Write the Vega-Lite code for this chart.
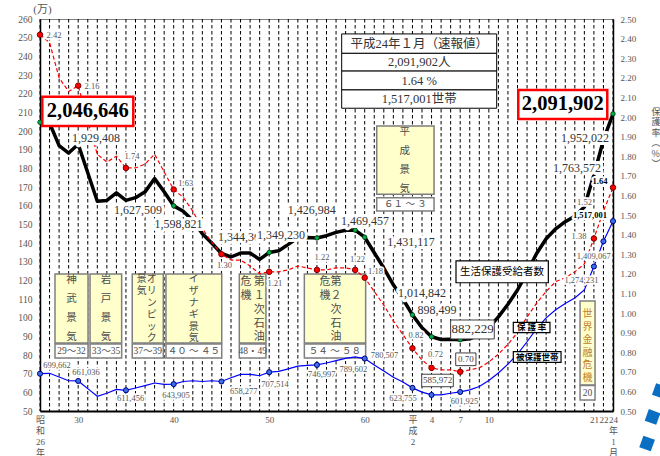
{
  "$schema": "https://vega.github.io/schema/vega-lite/v6.json",
  "description": "生活保護受給者数・保護率・被保護世帯数の推移（昭和26年〜平成24年1月）",
  "width": 573,
  "height": 392,
  "autosize": {"type": "none"},
  "padding": {"left": 40, "top": 19, "right": 47, "bottom": 45},
  "background": "white",
  "config": {
    "view": {"stroke": "#808080", "strokeWidth": 1},
    "text": {"font": "Liberation Serif, Noto Sans CJK JP", "align": "center", "baseline": "middle"}
  },
  "datasets": {
    "series": [
      {"year": 1951, "persons": 204.7, "rate": 2.42, "households": 70.0},
      {"year": 1952, "persons": 204.3, "rate": 2.38, "households": 70.2},
      {"year": 1953, "persons": 192.2, "rate": 2.20, "households": 68.2},
      {"year": 1954, "persons": 188.2, "rate": 2.13, "households": 66.2},
      {"year": 1955, "persons": 192.9, "rate": 2.16, "households": 66.1},
      {"year": 1956, "persons": 177.6, "rate": 1.98, "households": 62.0},
      {"year": 1957, "persons": 162.4, "rate": 1.81, "households": 57.9},
      {"year": 1958, "persons": 162.8, "rate": 1.77, "households": 59.5},
      {"year": 1959, "persons": 166.9, "rate": 1.80, "households": 61.6},
      {"year": 1960, "persons": 162.8, "rate": 1.74, "households": 61.1},
      {"year": 1961, "persons": 164.3, "rate": 1.74, "households": 62.3},
      {"year": 1962, "persons": 167.4, "rate": 1.76, "households": 63.6},
      {"year": 1963, "persons": 174.5, "rate": 1.81, "households": 65.0},
      {"year": 1964, "persons": 167.5, "rate": 1.72, "households": 64.3},
      {"year": 1965, "persons": 159.9, "rate": 1.63, "households": 64.4},
      {"year": 1966, "persons": 157.0, "rate": 1.59, "households": 65.8},
      {"year": 1967, "persons": 152.1, "rate": 1.52, "households": 66.2},
      {"year": 1968, "persons": 145.0, "rate": 1.43, "households": 65.8},
      {"year": 1969, "persons": 139.9, "rate": 1.36, "households": 66.2},
      {"year": 1970, "persons": 134.4, "rate": 1.30, "households": 65.8},
      {"year": 1971, "persons": 132.5, "rate": 1.27, "households": 67.8},
      {"year": 1972, "persons": 134.6, "rate": 1.27, "households": 69.6},
      {"year": 1973, "persons": 134.6, "rate": 1.24, "households": 69.6},
      {"year": 1974, "persons": 131.2, "rate": 1.20, "households": 68.9},
      {"year": 1975, "persons": 134.9, "rate": 1.21, "households": 70.8},
      {"year": 1976, "persons": 135.8, "rate": 1.21, "households": 71.2},
      {"year": 1977, "persons": 139.3, "rate": 1.22, "households": 72.6},
      {"year": 1978, "persons": 142.8, "rate": 1.24, "households": 74.0},
      {"year": 1979, "persons": 143.0, "rate": 1.23, "households": 74.4},
      {"year": 1980, "persons": 142.7, "rate": 1.22, "households": 74.7},
      {"year": 1981, "persons": 143.9, "rate": 1.22, "households": 75.7},
      {"year": 1982, "persons": 145.7, "rate": 1.23, "households": 77.0},
      {"year": 1983, "persons": 146.8, "rate": 1.23, "households": 78.2},
      {"year": 1984, "persons": 146.9, "rate": 1.22, "households": 79.0},
      {"year": 1985, "persons": 143.1, "rate": 1.18, "households": 78.1},
      {"year": 1986, "persons": 134.8, "rate": 1.11, "households": 74.6},
      {"year": 1987, "persons": 126.6, "rate": 1.04, "households": 71.4},
      {"year": 1988, "persons": 117.6, "rate": 0.96, "households": 68.1},
      {"year": 1989, "persons": 110.0, "rate": 0.89, "households": 65.5},
      {"year": 1990, "persons": 101.5, "rate": 0.82, "households": 62.4},
      {"year": 1991, "persons": 94.6, "rate": 0.76, "households": 60.1},
      {"year": 1992, "persons": 89.8, "rate": 0.72, "households": 58.6},
      {"year": 1993, "persons": 88.3, "rate": 0.71, "households": 58.6},
      {"year": 1994, "persons": 88.5, "rate": 0.71, "households": 59.5},
      {"year": 1995, "persons": 88.2, "rate": 0.70, "households": 60.2},
      {"year": 1996, "persons": 88.7, "rate": 0.71, "households": 61.3},
      {"year": 1997, "persons": 90.6, "rate": 0.72, "households": 63.1},
      {"year": 1998, "persons": 94.7, "rate": 0.75, "households": 66.3},
      {"year": 1999, "persons": 100.4, "rate": 0.79, "households": 70.4},
      {"year": 2000, "persons": 107.2, "rate": 0.84, "households": 75.1},
      {"year": 2001, "persons": 114.8, "rate": 0.90, "households": 80.5},
      {"year": 2002, "persons": 124.3, "rate": 0.98, "households": 87.1},
      {"year": 2003, "persons": 134.4, "rate": 1.05, "households": 94.1},
      {"year": 2004, "persons": 142.3, "rate": 1.11, "households": 99.9},
      {"year": 2005, "persons": 147.6, "rate": 1.16, "households": 104.2},
      {"year": 2006, "persons": 151.4, "rate": 1.18, "households": 107.6},
      {"year": 2007, "persons": 154.3, "rate": 1.21, "households": 110.5},
      {"year": 2008, "persons": 159.3, "rate": 1.25, "households": 114.9},
      {"year": 2009, "persons": 176.4, "rate": 1.38, "households": 127.4},
      {"year": 2010, "persons": 195.2, "rate": 1.52, "households": 140.9},
      {"year": 2011, "persons": 209.2, "rate": 1.64, "households": 151.7}
    ],
    "booms": [
      {"x": 1952.57, "x2": 1956.03, "y": 123.4, "y2": 86.4},
      {"x": 1956.24, "x2": 1959.55, "y": 123.4, "y2": 86.4},
      {"x": 1960.66, "x2": 1963.91, "y": 123.4, "y2": 86.4},
      {"x": 1964.19, "x2": 1970.03, "y": 123.4, "y2": 86.4},
      {"x": 1971.87, "x2": 1974.66, "y": 123.4, "y2": 86.4},
      {"x": 1978.68, "x2": 1985.1, "y": 123.4, "y2": 86.4},
      {"x": 1986.26, "x2": 1992.26, "y": 202.7, "y2": 166.1},
      {"x": 2007.55, "x2": 2009.12, "y": 108.9, "y2": 63.9}
    ],
    "boom_periods": [
      {"x": 1952.57, "x2": 1956.03, "y": 85.9, "y2": 78.4, "xc": 1954.3, "yc": 82.15, "text": "29～32"},
      {"x": 1956.24, "x2": 1959.55, "y": 85.9, "y2": 78.4, "xc": 1957.9, "yc": 82.15, "text": "33～35"},
      {"x": 1960.66, "x2": 1963.91, "y": 85.9, "y2": 78.4, "xc": 1962.28, "yc": 82.15, "text": "37～39"},
      {"x": 1964.19, "x2": 1970.03, "y": 85.9, "y2": 78.4, "xc": 1967.11, "yc": 82.15, "text": "４０ ～ ４５"},
      {"x": 1971.87, "x2": 1974.66, "y": 85.9, "y2": 78.4, "xc": 1973.27, "yc": 82.15, "text": "48・49"},
      {"x": 1978.68, "x2": 1985.1, "y": 85.9, "y2": 78.4, "xc": 1981.89, "yc": 82.15, "text": "５４ ～ ５８"},
      {"x": 1986.26, "x2": 1992.26, "y": 164.3, "y2": 157.1, "xc": 1989.26, "yc": 160.7, "text": "６１ ～ ３"},
      {"x": 2007.55, "x2": 2009.12, "y": 63.6, "y2": 55.9, "xc": 2008.33, "yc": 59.75, "text": "20"}
    ],
    "table": [
      {"x": 1982.59, "x2": 1998.82, "y": 252.0, "y2": 241.6, "xc": 1990.7, "yc": 246.8, "text": "平成24年１月（速報値）"},
      {"x": 1982.59, "x2": 1998.82, "y": 241.6, "y2": 232.1, "xc": 1990.7, "yc": 236.85, "text": "2,091,902人"},
      {"x": 1982.59, "x2": 1998.82, "y": 232.1, "y2": 222.0, "xc": 1990.7, "yc": 227.05, "text": "1.64 %"},
      {"x": 1982.59, "x2": 1998.82, "y": 222.0, "y2": 212.2, "xc": 1990.7, "yc": 217.1, "text": "1,517,001世帯"}
    ],
    "big_labels": [
      {"x": 1951.24, "x2": 1960.77, "y": 218.4, "y2": 202.7, "xc": 1956.0, "yc": 210.6, "text": "2,046,646"},
      {"x": 2001.08, "x2": 2010.4, "y": 222.0, "y2": 206.4, "xc": 2005.74, "yc": 214.2, "text": "2,091,902"}
    ],
    "legend_boxes": [
      {"x": 1994.56, "x2": 2004.23, "y": 130.4, "y2": 118.7, "xc": 1999.38, "yc": 124.55, "text": "生活保護受給者数"},
      {"x": 2000.56, "x2": 2004.4, "y": 97.5, "y2": 92.0, "xc": 2002.48, "yc": 94.75, "text": "保 護 率"},
      {"x": 2000.56, "x2": 2005.56, "y": 81.8, "y2": 76.1, "xc": 2003.06, "yc": 78.95, "text": "被保護世帯"}
    ],
    "value_boxes": [
      {"x": 1994.0, "x2": 1998.57, "y": 98.75, "y2": 88.6, "xc": 1996.29, "yc": 93.7, "text": "882,229"},
      {"x": 1994.53, "x2": 1996.65, "y": 81.1, "y2": 74.3, "xc": 1995.59, "yc": 77.7, "text": "0.70"},
      {"x": 1990.97, "x2": 1994.28, "y": 69.7, "y2": 63.0, "xc": 1992.63, "yc": 66.35, "text": "585,972"}
    ],
    "labels_persons": [
      {"x": 1956.86, "y": 196.25, "text": "1,929,408"},
      {"x": 1961.26, "y": 157.7, "text": "1,627,509"},
      {"x": 1965.5, "y": 150.2, "text": "1,598,821"},
      {"x": 1972.15, "y": 143.2, "text": "1,344,306"},
      {"x": 1979.45, "y": 157.7, "text": "1,426,984"},
      {"x": 1985.03, "y": 151.8, "text": "1,469,457"},
      {"x": 1989.85, "y": 140.4, "text": "1,431,117"},
      {"x": 1991.0, "y": 113.2, "text": "1,014,842"},
      {"x": 1992.57, "y": 104.1, "text": "898,499"},
      {"x": 2007.23, "y": 180.0, "text": "1,763,572"},
      {"x": 2008.07, "y": 196.1, "text": "1,952,022"},
      {"x": 1976.24, "y": 144.3, "text": "1,349,230"}
    ],
    "labels_small": [
      {"x": 1952.47, "y": 251.6, "text": "2.42"},
      {"x": 1956.45, "y": 224.1, "text": "2.16"},
      {"x": 1960.63, "y": 186.6, "text": "1.74"},
      {"x": 1966.26, "y": 172.0, "text": "1.63"},
      {"x": 1970.32, "y": 128.2, "text": "1.30"},
      {"x": 1975.6, "y": 118.4, "text": "1.21"},
      {"x": 1980.53, "y": 132.3, "text": "1.22"},
      {"x": 1984.25, "y": 131.3, "text": "1.22"},
      {"x": 1986.13, "y": 125.2, "text": "1.18"},
      {"x": 1990.37, "y": 90.7, "text": "0.82"},
      {"x": 1992.41, "y": 80.5, "text": "0.72"},
      {"x": 2008.02, "y": 162.1, "text": "1.52"},
      {"x": 2007.44, "y": 144.0, "text": "1.38"},
      {"x": 1952.78, "y": 74.6, "text": "699,662"},
      {"x": 1955.82, "y": 70.7, "text": "661,036"},
      {"x": 1960.48, "y": 57.1, "text": "611,456"},
      {"x": 1965.24, "y": 58.6, "text": "643,905"},
      {"x": 1972.33, "y": 60.7, "text": "658,277"},
      {"x": 1975.61, "y": 64.3, "text": "707,514"},
      {"x": 1980.5, "y": 69.8, "text": "746,997"},
      {"x": 1983.81, "y": 72.5, "text": "789,602"},
      {"x": 1987.07, "y": 80.0, "text": "780,507"},
      {"x": 1989.01, "y": 57.1, "text": "623,755"},
      {"x": 1995.45, "y": 55.4, "text": "601,925"},
      {"x": 2008.98, "y": 133.2, "text": "1,409,067"},
      {"x": 2007.7, "y": 120.2, "text": "1,274,231"}
    ],
    "labels_bold": [
      {"x": 2008.59, "y": 155.0, "text": "1,517,001"},
      {"x": 2009.64, "y": 173.4, "text": "1.64"}
    ],
    "boom_names": [
      {"x": 1954.3, "y": 122.8, "lines": ["神", "武", "景", "気"]},
      {"x": 1957.9, "y": 122.8, "lines": ["岩", "戸", "景", "気"]},
      {"x": 1989.2, "y": 201.9, "lines": ["平", "成", "景", "気"]}
    ],
    "boom_names_kana": [
      {"x": 1962.7, "y": 123.2, "lines": ["オ", "リ", "ン", "ピ", "ッ", "ク"]},
      {"x": 1961.65, "y": 123.2, "lines": ["景", "", "", "", "", "気"]},
      {"x": 1967.1, "y": 123.2, "lines": ["イ", "ザ", "ナ", "ギ", "景", "気"]}
    ],
    "boom_names_oil": [
      {"x": 1973.96, "y": 122.2, "lines": ["第", "１", "次", "石", "油"]},
      {"x": 1972.57, "y": 122.2, "lines": ["危", "", "", "", "機"]},
      {"x": 1982.0, "y": 122.2, "lines": ["第", "２", "次", "石", "油"]},
      {"x": 1980.84, "y": 122.2, "lines": ["危", "", "", "", "機"]}
    ],
    "crisis_name": [
      {"x": 2008.33, "y": 104.5, "lines": ["世", "界", "金", "融", "危", "機"]}
    ],
    "decor": [
      {"x": 2015.9, "y": 60.7},
      {"x": 2015.14, "y": 46.8},
      {"x": 2014.57, "y": 32.6}
    ]
  },
  "layer": [
    {
      "data": {"name": "series"},
      "mark": {"type": "rule", "color": "#000000", "strokeWidth": 1, "strokeDash": [3.5, 2.5]},
      "encoding": {
        "x": {
          "field": "year", "type": "quantitative",
          "scale": {"domain": [1951, 2011], "nice": false, "zero": false},
          "axis": {
            "title": null,
            "values": [1951,1955,1965,1975,1985,1990,1992,1995,1998,2009,2010,2011],
            "grid": false,
            "ticks": false,
            "domainColor": "#000000", "domainWidth": 2,
            "labelExpr": "datum.value == 1951 ? ['昭','和','26','年'] : datum.value == 1955 ? '30' : datum.value == 1965 ? '40' : datum.value == 1975 ? '50' : datum.value == 1985 ? '60' : datum.value == 1990 ? ['平','成','2'] : datum.value == 1992 ? '4' : datum.value == 1995 ? '7' : datum.value == 1998 ? '10' : datum.value == 2009 ? '21' : datum.value == 2010 ? '22' : datum.value == 2011 ? ['24','年','1','月'] : ''",
            "labelFont": "Liberation Serif, Noto Sans CJK JP",
            "labelFontSize": 9, "labelColor": "#555555", "labelPadding": 4,
            "labelBaseline": "top", "labelLineHeight": 11,
            "labelOverlap": false, "labelFlush": false, "labelBound": false
          }
        }
      }
    },
    {
      "data": {"name": "booms"},
      "mark": {"type": "rect", "fill": "#ffffcc", "stroke": "#7f7f7f", "strokeWidth": 1.5},
      "encoding": {
        "x": {"field": "x", "type": "quantitative", "scale": {"domain": [1951, 2011], "nice": false, "zero": false}, "axis": null},
        "x2": {"field": "x2"},
        "y": {
          "field": "y", "type": "quantitative",
          "scale": {"domain": [50, 260], "nice": false, "zero": false},
          "axis": {
            "title": "(万)", "titleAngle": 0, "titleX": 2, "titleY": -10,
            "titleAlign": "center", "titleBaseline": "middle",
            "titleFont": "Liberation Serif, Noto Sans CJK JP", "titleFontSize": 11,
            "titleFontWeight": "normal", "titleColor": "#555555",
            "values": [50,60,70,80,90,100,110,120,130,140,150,160,170,180,190,200,210,220,230,240,250,260],
            "ticks": false, "grid": false, "labelPadding": 8,
            "labelFont": "Liberation Serif", "labelFontSize": 9.5, "labelColor": "#555555",
            "domainColor": "#000000", "domainWidth": 1.5
          }
        },
        "y2": {"field": "y2"}
      }
    },
    {
      "data": {"name": "boom_periods"},
      "mark": {"type": "rect", "fill": "white", "stroke": "#7f7f7f", "strokeWidth": 1.5},
      "encoding": {
        "x": {"field": "x", "type": "quantitative", "scale": {"domain": [1951, 2011], "nice": false, "zero": false}, "axis": null},
        "x2": {"field": "x2"},
        "y": {"field": "y", "type": "quantitative", "scale": {"domain": [50, 260], "nice": false, "zero": false}, "axis": null},
        "y2": {"field": "y2"}
      }
    },
    {
      "data": {"name": "boom_periods"},
      "mark": {"type": "text", "fontSize": 9.5, "fill": "#4d4d4d"},
      "encoding": {
        "x": {"field": "xc", "type": "quantitative", "scale": {"domain": [1951, 2011], "nice": false, "zero": false}, "axis": null},
        "y": {"field": "yc", "type": "quantitative", "scale": {"domain": [50, 260], "nice": false, "zero": false}, "axis": null},
        "text": {"field": "text"}
      }
    },
    {
      "data": {"name": "boom_names"},
      "mark": {"type": "text", "fontSize": 10.5, "lineHeight": 19, "baseline": "top", "fill": "#4d4d4d"},
      "encoding": {
        "x": {"field": "x", "type": "quantitative", "scale": {"domain": [1951, 2011], "nice": false, "zero": false}, "axis": null},
        "y": {"field": "y", "type": "quantitative", "scale": {"domain": [50, 260], "nice": false, "zero": false}, "axis": null},
        "text": {"field": "lines"}
      }
    },
    {
      "data": {"name": "boom_names_kana"},
      "mark": {"type": "text", "fontSize": 10, "lineHeight": 11.8, "baseline": "top", "fill": "#4d4d4d"},
      "encoding": {
        "x": {"field": "x", "type": "quantitative", "scale": {"domain": [1951, 2011], "nice": false, "zero": false}, "axis": null},
        "y": {"field": "y", "type": "quantitative", "scale": {"domain": [50, 260], "nice": false, "zero": false}, "axis": null},
        "text": {"field": "lines"}
      }
    },
    {
      "data": {"name": "boom_names_oil"},
      "mark": {"type": "text", "fontSize": 11, "lineHeight": 13.8, "baseline": "top", "fill": "#4d4d4d"},
      "encoding": {
        "x": {"field": "x", "type": "quantitative", "scale": {"domain": [1951, 2011], "nice": false, "zero": false}, "axis": null},
        "y": {"field": "y", "type": "quantitative", "scale": {"domain": [50, 260], "nice": false, "zero": false}, "axis": null},
        "text": {"field": "lines"}
      }
    },
    {
      "data": {"name": "crisis_name"},
      "mark": {"type": "text", "fontSize": 10, "lineHeight": 12.8, "baseline": "top", "fill": "#c08030"},
      "encoding": {
        "x": {"field": "x", "type": "quantitative", "scale": {"domain": [1951, 2011], "nice": false, "zero": false}, "axis": null},
        "y": {"field": "y", "type": "quantitative", "scale": {"domain": [50, 260], "nice": false, "zero": false}, "axis": null},
        "text": {"field": "lines"}
      }
    },
    {
      "data": {"name": "series"},
      "mark": {"type": "line", "color": "#000000", "strokeWidth": 3.5, "strokeJoin": "round"},
      "encoding": {
        "x": {"field": "year", "type": "quantitative", "scale": {"domain": [1951, 2011], "nice": false, "zero": false}, "axis": null},
        "y": {"field": "persons", "type": "quantitative", "scale": {"domain": [50, 260], "nice": false, "zero": false}, "axis": null}
      }
    },
    {
      "data": {"name": "series"},
      "mark": {"type": "line", "color": "#0000ff", "strokeWidth": 1.2},
      "encoding": {
        "x": {"field": "year", "type": "quantitative", "scale": {"domain": [1951, 2011], "nice": false, "zero": false}, "axis": null},
        "y": {"field": "households", "type": "quantitative", "scale": {"domain": [50, 260], "nice": false, "zero": false}, "axis": null}
      }
    },
    {
      "data": {"name": "series"},
      "transform": [{"filter": {"field": "year", "oneOf": [1951, 1965, 1975, 1980, 1984, 1985, 1990, 1992, 1995, 2011]}}],
      "mark": {"type": "circle", "fill": "#00b050", "stroke": "#003300", "strokeWidth": 0.8, "size": 20, "opacity": 1},
      "encoding": {
        "x": {"field": "year", "type": "quantitative", "scale": {"domain": [1951, 2011], "nice": false, "zero": false}, "axis": null},
        "y": {"field": "persons", "type": "quantitative", "scale": {"domain": [50, 260], "nice": false, "zero": false}, "axis": null}
      }
    },
    {
      "data": {"name": "series"},
      "transform": [{"filter": {"field": "year", "oneOf": [1951, 1955, 1960, 1965, 1970, 1975, 1980, 1985, 1990, 1992, 1995, 2009, 2010, 2011]}}],
      "mark": {"type": "circle", "fill": "#3a6fe8", "stroke": "#000080", "strokeWidth": 1, "size": 26, "opacity": 1},
      "encoding": {
        "x": {"field": "year", "type": "quantitative", "scale": {"domain": [1951, 2011], "nice": false, "zero": false}, "axis": null},
        "y": {"field": "households", "type": "quantitative", "scale": {"domain": [50, 260], "nice": false, "zero": false}, "axis": null}
      }
    },
    {
      "data": {"name": "series"},
      "mark": {"type": "line", "color": "#ff0000", "strokeWidth": 1.2, "strokeDash": [4, 2.5]},
      "encoding": {
        "x": {"field": "year", "type": "quantitative", "scale": {"domain": [1951, 2011], "nice": false, "zero": false}, "axis": null},
        "y": {
          "field": "rate", "type": "quantitative",
          "scale": {"domain": [0.5, 2.5], "nice": false, "zero": false},
          "axis": {
            "orient": "right",
            "title": ["保", "護", "率", "︵", "%", "︶"],
            "titleAngle": 0, "titleX": 38, "titleY": 88,
            "titleAlign": "left", "titleBaseline": "top",
            "titleFont": "Noto Sans CJK JP", "titleFontSize": 9, "titleLineHeight": 10.5,
            "titleFontWeight": "normal", "titleColor": "#555555",
            "values": [0.5,0.6,0.7,0.8,0.9,1.0,1.1,1.2,1.3,1.4,1.5,1.6,1.7,1.8,1.9,2.0,2.1,2.2,2.3,2.4,2.5],
            "format": ".2f",
            "ticks": false, "grid": false, "labelPadding": 7,
            "labelFont": "Liberation Serif", "labelFontSize": 9, "labelColor": "#555555",
            "domainColor": "#000000", "domainWidth": 1.5
          }
        }
      }
    },
    {
      "data": {"name": "series"},
      "transform": [{"filter": {"field": "year", "oneOf": [1951, 1955, 1960, 1965, 1970, 1975, 1980, 1984, 1985, 1990, 1992, 1995, 2009, 2011]}}],
      "mark": {"type": "circle", "fill": "#ff0000", "stroke": "#7a0000", "strokeWidth": 1, "size": 30, "opacity": 1},
      "encoding": {
        "x": {"field": "year", "type": "quantitative", "scale": {"domain": [1951, 2011], "nice": false, "zero": false}, "axis": null},
        "y": {"field": "rate", "type": "quantitative", "scale": {"domain": [0.5, 2.5], "nice": false, "zero": false}, "axis": null}
      }
    },
    {
      "data": {"name": "big_labels"},
      "mark": {"type": "rect", "fill": "white", "stroke": "#ff0000", "strokeWidth": 2.5},
      "encoding": {
        "x": {"field": "x", "type": "quantitative", "scale": {"domain": [1951, 2011], "nice": false, "zero": false}, "axis": null},
        "x2": {"field": "x2"},
        "y": {"field": "y", "type": "quantitative", "scale": {"domain": [50, 260], "nice": false, "zero": false}, "axis": null},
        "y2": {"field": "y2"}
      }
    },
    {
      "data": {"name": "big_labels"},
      "mark": {"type": "text", "fontSize": 20.5, "fontWeight": "bold", "fill": "#000000"},
      "encoding": {
        "x": {"field": "xc", "type": "quantitative", "scale": {"domain": [1951, 2011], "nice": false, "zero": false}, "axis": null},
        "y": {"field": "yc", "type": "quantitative", "scale": {"domain": [50, 260], "nice": false, "zero": false}, "axis": null},
        "text": {"field": "text"}
      }
    },
    {
      "data": {"name": "table"},
      "mark": {"type": "rect", "fill": "white", "stroke": "#000000", "strokeWidth": 1},
      "encoding": {
        "x": {"field": "x", "type": "quantitative", "scale": {"domain": [1951, 2011], "nice": false, "zero": false}, "axis": null},
        "x2": {"field": "x2"},
        "y": {"field": "y", "type": "quantitative", "scale": {"domain": [50, 260], "nice": false, "zero": false}, "axis": null},
        "y2": {"field": "y2"}
      }
    },
    {
      "data": {"name": "table"},
      "mark": {"type": "text", "fontSize": 12.5, "fill": "#333333"},
      "encoding": {
        "x": {"field": "xc", "type": "quantitative", "scale": {"domain": [1951, 2011], "nice": false, "zero": false}, "axis": null},
        "y": {"field": "yc", "type": "quantitative", "scale": {"domain": [50, 260], "nice": false, "zero": false}, "axis": null},
        "text": {"field": "text"}
      }
    },
    {
      "data": {"name": "legend_boxes"},
      "mark": {"type": "rect", "fill": "white", "stroke": "#000000", "strokeWidth": 1.2},
      "encoding": {
        "x": {"field": "x", "type": "quantitative", "scale": {"domain": [1951, 2011], "nice": false, "zero": false}, "axis": null},
        "x2": {"field": "x2"},
        "y": {"field": "y", "type": "quantitative", "scale": {"domain": [50, 260], "nice": false, "zero": false}, "axis": null},
        "y2": {"field": "y2"}
      }
    },
    {
      "data": {"name": "value_boxes"},
      "mark": {"type": "rect", "fill": "white", "stroke": "#404040", "strokeWidth": 1},
      "encoding": {
        "x": {"field": "x", "type": "quantitative", "scale": {"domain": [1951, 2011], "nice": false, "zero": false}, "axis": null},
        "x2": {"field": "x2"},
        "y": {"field": "y", "type": "quantitative", "scale": {"domain": [50, 260], "nice": false, "zero": false}, "axis": null},
        "y2": {"field": "y2"}
      }
    },
    {
      "data": {"name": "legend_boxes"},
      "transform": [{"filter": {"field": "text", "equal": "生活保護受給者数"}}],
      "mark": {"type": "text", "fontSize": 10.5, "fill": "#000000", "font": "Noto Sans CJK JP"},
      "encoding": {
        "x": {"field": "xc", "type": "quantitative", "scale": {"domain": [1951, 2011], "nice": false, "zero": false}, "axis": null},
        "y": {"field": "yc", "type": "quantitative", "scale": {"domain": [50, 260], "nice": false, "zero": false}, "axis": null},
        "text": {"field": "text"}
      }
    },
    {
      "data": {"name": "legend_boxes"},
      "transform": [{"filter": {"field": "text", "oneOf": ["保 護 率", "被保護世帯"]}}],
      "mark": {"type": "text", "fontSize": 8.5, "fontWeight": "bold", "fill": "#000000", "font": "Noto Sans CJK JP"},
      "encoding": {
        "x": {"field": "xc", "type": "quantitative", "scale": {"domain": [1951, 2011], "nice": false, "zero": false}, "axis": null},
        "y": {"field": "yc", "type": "quantitative", "scale": {"domain": [50, 260], "nice": false, "zero": false}, "axis": null},
        "text": {"field": "text"}
      }
    },
    {
      "data": {"name": "value_boxes"},
      "transform": [{"filter": {"field": "text", "equal": "882,229"}}],
      "mark": {"type": "text", "fontSize": 13, "fill": "#333333"},
      "encoding": {
        "x": {"field": "xc", "type": "quantitative", "scale": {"domain": [1951, 2011], "nice": false, "zero": false}, "axis": null},
        "y": {"field": "yc", "type": "quantitative", "scale": {"domain": [50, 260], "nice": false, "zero": false}, "axis": null},
        "text": {"field": "text"}
      }
    },
    {
      "data": {"name": "value_boxes"},
      "transform": [{"filter": {"field": "text", "oneOf": ["0.70", "585,972"]}}],
      "mark": {"type": "text", "fontSize": 9, "fill": "#444444"},
      "encoding": {
        "x": {"field": "xc", "type": "quantitative", "scale": {"domain": [1951, 2011], "nice": false, "zero": false}, "axis": null},
        "y": {"field": "yc", "type": "quantitative", "scale": {"domain": [50, 260], "nice": false, "zero": false}, "axis": null},
        "text": {"field": "text"}
      }
    },
    {
      "data": {"name": "labels_small"},
      "mark": {"type": "text", "fontSize": 8.5, "fill": "white", "stroke": "white", "strokeWidth": 3.5, "strokeJoin": "round"},
      "encoding": {
        "x": {"field": "x", "type": "quantitative", "scale": {"domain": [1951, 2011], "nice": false, "zero": false}, "axis": null},
        "y": {"field": "y", "type": "quantitative", "scale": {"domain": [50, 260], "nice": false, "zero": false}, "axis": null},
        "text": {"field": "text"}
      }
    },
    {
      "data": {"name": "labels_small"},
      "mark": {"type": "text", "fontSize": 8.5, "fill": "#555555"},
      "encoding": {
        "x": {"field": "x", "type": "quantitative", "scale": {"domain": [1951, 2011], "nice": false, "zero": false}, "axis": null},
        "y": {"field": "y", "type": "quantitative", "scale": {"domain": [50, 260], "nice": false, "zero": false}, "axis": null},
        "text": {"field": "text"}
      }
    },
    {
      "data": {"name": "labels_persons"},
      "transform": [{"filter": "datum.text != '1,349,230'"}],
      "mark": {"type": "text", "fontSize": 12, "fill": "white", "stroke": "white", "strokeWidth": 6, "strokeJoin": "round"},
      "encoding": {
        "x": {"field": "x", "type": "quantitative", "scale": {"domain": [1951, 2011], "nice": false, "zero": false}, "axis": null},
        "y": {"field": "y", "type": "quantitative", "scale": {"domain": [50, 260], "nice": false, "zero": false}, "axis": null},
        "text": {"field": "text"}
      }
    },
    {
      "data": {"name": "labels_persons"},
      "transform": [{"filter": "datum.text != '1,349,230'"}],
      "mark": {"type": "text", "fontSize": 12, "fill": "#333333"},
      "encoding": {
        "x": {"field": "x", "type": "quantitative", "scale": {"domain": [1951, 2011], "nice": false, "zero": false}, "axis": null},
        "y": {"field": "y", "type": "quantitative", "scale": {"domain": [50, 260], "nice": false, "zero": false}, "axis": null},
        "text": {"field": "text"}
      }
    },
    {
      "data": {"name": "labels_persons"},
      "transform": [{"filter": "datum.text == '1,349,230'"}],
      "mark": {"type": "text", "fontSize": 12, "fill": "white", "stroke": "white", "strokeWidth": 6, "strokeJoin": "round"},
      "encoding": {
        "x": {"field": "x", "type": "quantitative", "scale": {"domain": [1951, 2011], "nice": false, "zero": false}, "axis": null},
        "y": {"field": "y", "type": "quantitative", "scale": {"domain": [50, 260], "nice": false, "zero": false}, "axis": null},
        "text": {"field": "text"}
      }
    },
    {
      "data": {"name": "labels_persons"},
      "transform": [{"filter": "datum.text == '1,349,230'"}],
      "mark": {"type": "text", "fontSize": 12, "fill": "#333333"},
      "encoding": {
        "x": {"field": "x", "type": "quantitative", "scale": {"domain": [1951, 2011], "nice": false, "zero": false}, "axis": null},
        "y": {"field": "y", "type": "quantitative", "scale": {"domain": [50, 260], "nice": false, "zero": false}, "axis": null},
        "text": {"field": "text"}
      }
    },
    {
      "data": {"name": "labels_bold"},
      "mark": {"type": "text", "fontSize": 8.5, "fontWeight": "bold", "fill": "white", "stroke": "white", "strokeWidth": 4, "strokeJoin": "round"},
      "encoding": {
        "x": {"field": "x", "type": "quantitative", "scale": {"domain": [1951, 2011], "nice": false, "zero": false}, "axis": null},
        "y": {"field": "y", "type": "quantitative", "scale": {"domain": [50, 260], "nice": false, "zero": false}, "axis": null},
        "text": {"field": "text"}
      }
    },
    {
      "data": {"name": "labels_bold"},
      "mark": {"type": "text", "fontSize": 8.5, "fontWeight": "bold", "fill": "#000000"},
      "encoding": {
        "x": {"field": "x", "type": "quantitative", "scale": {"domain": [1951, 2011], "nice": false, "zero": false}, "axis": null},
        "y": {"field": "y", "type": "quantitative", "scale": {"domain": [50, 260], "nice": false, "zero": false}, "axis": null},
        "text": {"field": "text"}
      }
    },
    {
      "data": {"name": "decor"},
      "mark": {"type": "point", "shape": "square", "filled": true, "color": "#0a6fc2", "size": 150, "angle": 20, "opacity": 1},
      "encoding": {
        "x": {"field": "x", "type": "quantitative", "scale": {"domain": [1951, 2011], "nice": false, "zero": false}, "axis": null},
        "y": {"field": "y", "type": "quantitative", "scale": {"domain": [50, 260], "nice": false, "zero": false}, "axis": null}
      }
    }
  ],
  "resolve": {"scale": {"x": "independent", "y": "independent"}}
}
